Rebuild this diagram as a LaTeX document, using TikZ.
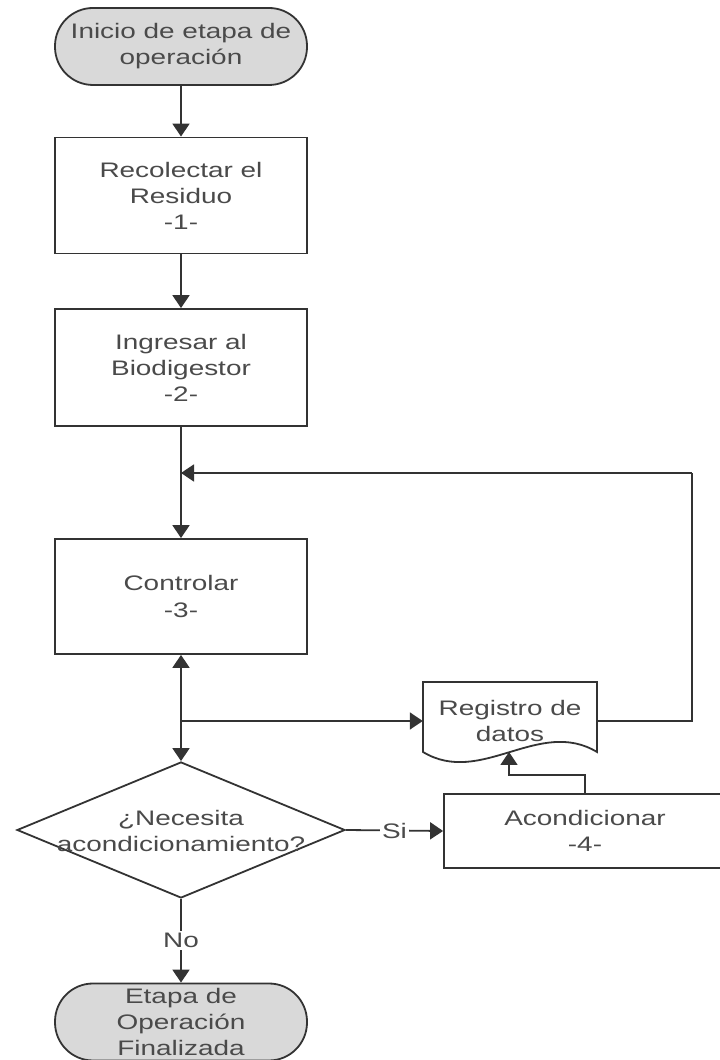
\documentclass[tikz,border=0pt]{standalone}
\usepackage{fontspec}
\setmainfont{Liberation Sans}[FakeStretch=1.33]
\usetikzlibrary{arrows.meta,shapes.geometric}
\definecolor{linec}{HTML}{333333}
\definecolor{textc}{HTML}{4A4A4A}
\definecolor{termfill}{HTML}{D9D9D9}
\tikzset{
  base/.style={draw=linec, line width=1.8pt, text=textc, align=center, inner sep=0pt,
    font=\fontsize{21}{26}\selectfont},
  terminal/.style={base, fill=termfill, rectangle, rounded corners=38pt,
    minimum width=252pt, minimum height=77pt},
  procbox/.style={base, fill=white, rectangle, minimum width=252pt},
  decision/.style={draw=linec, line width=1.8pt, fill=white, diamond, inner sep=0pt,
    minimum width=328pt, minimum height=136pt},
  txt/.style={text=textc, align=center, inner sep=0pt, font=\fontsize{21}{26}\selectfont},
  conn/.style={draw=linec, line width=1.8pt, -{Triangle[width=17pt,length=13pt]}},
  conn2/.style={draw=linec, line width=1.8pt, {Triangle[width=17pt,length=13pt]}-{Triangle[width=17pt,length=13pt]}},
  plain/.style={draw=linec, line width=1.8pt},
  lbl/.style={fill=white, text=textc, inner sep=2pt, font=\fontsize{21}{26}\selectfont},
  docshape/.style={draw=linec, line width=1.8pt, fill=white}
}
\begin{document}
\begin{tikzpicture}[x=1pt,y=1pt]
\useasboundingbox (0,0) rectangle (720,1060);
\clip (0,0) rectangle (720,1060);

\node[terminal] (start) at (181,1013.5) {Inicio de etapa de\\operación};
\node[procbox, minimum height=116pt] (b1) at (181,864.5) {Recolectar el\\Residuo\\-1-};
\node[procbox, minimum height=117pt] (b2) at (181,692.5) {Ingresar al\\Biodigestor\\-2-};
\node[procbox, minimum height=115pt] (b3) at (181,463.5) {Controlar\\-3-};
\node[decision] (dia) at (181,230) {};
\node[txt] (diatext) at (181,229) {¿Necesita\\acondicionamiento?};
\node[procbox, minimum width=282pt, minimum height=74pt] (acond) at (585,229) {Acondicionar\\-4-};
\node[terminal] (end) at (181,38) {Etapa de\\Operación\\Finalizada};

% Registro de datos (document shape)
\path[docshape] (423,308) -- (423,378) -- (597,378) -- (597,308)
  .. controls (539,343) and (481,273) .. (423,308) -- cycle;
\node[txt, minimum width=174pt, minimum height=78pt] (reg) at (510,339) {Registro de\\datos};

\coordinate (fb) at (181,587);
\coordinate (fbr) at (692,587);
\coordinate (el) at (509,285);
\coordinate (regin) at (509,308);

\draw[conn] (start) -- (b1);
\draw[conn] (b1) -- (b2);
\draw[conn] (b2) -- (b3);
\draw[conn2] (b3) -- (dia);
\draw[conn] (b3.south |- reg.west) -- (reg.west);
\draw[plain] (reg.east) -| (fbr);
\draw[conn] (fbr) -- (fb);
\draw[conn] (acond.north) |- (el) -- (regin);
\draw[conn] (dia.east) -- node[lbl] {Si} (acond.west);
\draw[conn] (dia.south) -- node[lbl, pos=0.5] {No} (end.north);
\end{tikzpicture}
\end{document}
